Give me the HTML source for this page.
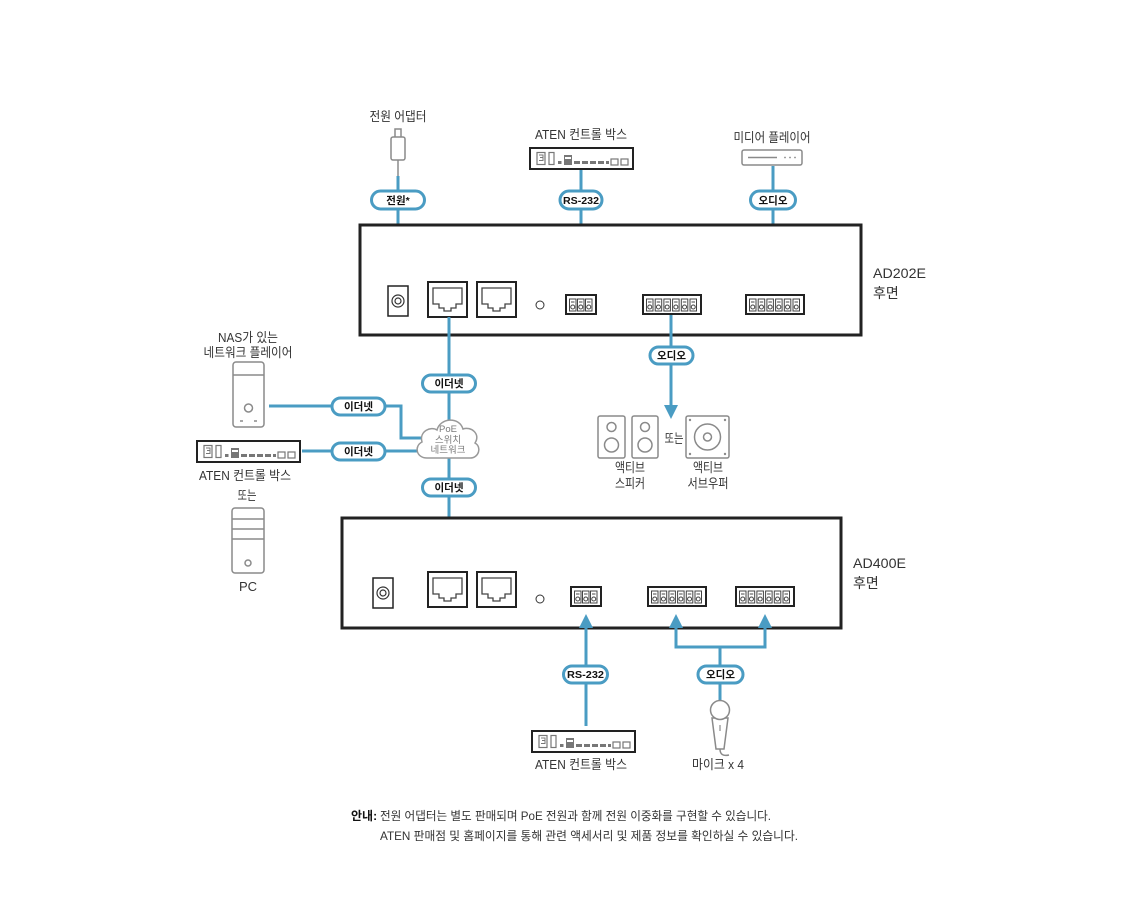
<!DOCTYPE html>
<html><head><meta charset="utf-8">
<style>
html,body{margin:0;padding:0;background:#fff;}
svg{display:block;}
text{font-family:"Liberation Sans","Noto Sans CJK KR",sans-serif;}
.lb{font-size:13px;fill:#333;}
.pt{font-size:10.5px;font-weight:bold;fill:#111;}
.bl{stroke:#4a9cc3;stroke-width:3;fill:none;}
.pill{fill:#fff;stroke:#4a9cc3;stroke-width:3;}
.dev{fill:#fff;stroke:#8a8a8a;stroke-width:1.5;}
.box{fill:#fff;stroke:#222;stroke-width:3;}
.port{fill:#fff;stroke:#222;stroke-width:2;}
.in{fill:none;stroke:#444;stroke-width:1.3;}
.arr{fill:#4a9cc3;}
</style></head>
<body>
<svg width="1140" height="913" viewBox="0 0 1140 913" xmlns="http://www.w3.org/2000/svg">
<defs>
  <g id="cell">
    <rect x="0.5" y="0" width="6.5" height="12" fill="none" stroke="#444" stroke-width="1"/>
    <line x1="2" y1="3" x2="5.5" y2="3" stroke="#444" stroke-width="1"/>
    <circle cx="3.75" cy="8" r="2" fill="none" stroke="#444" stroke-width="1"/>
  </g>
  <g id="ctrl">
    <rect x="0" y="0" width="103" height="21" fill="#fff" stroke="#222" stroke-width="2"/>
    <rect x="7" y="4.5" width="8" height="12" fill="none" stroke="#777" stroke-width="1.2"/>
    <path d="M9,7 h4 v2.5 h-3 h3 v3 h-4" fill="none" stroke="#777" stroke-width="1"/>
    <rect x="19" y="4.5" width="5" height="12" fill="none" stroke="#777" stroke-width="1.2"/>
    <rect x="28" y="13" width="3.5" height="3" fill="#777"/>
    <rect x="34" y="7" width="8" height="10" fill="#777"/>
    <rect x="35" y="9" width="6" height="2" fill="#fff"/>
    <rect x="44" y="13" width="6" height="3" fill="#777"/>
    <rect x="52" y="13" width="6" height="3" fill="#777"/>
    <rect x="60" y="13" width="6" height="3" fill="#777"/>
    <rect x="68" y="13" width="6" height="3" fill="#777"/>
    <rect x="76" y="13" width="3" height="3" fill="#777"/>
    <rect x="81" y="11" width="7" height="6" fill="none" stroke="#777" stroke-width="1.2"/>
    <rect x="91" y="11" width="7" height="6" fill="none" stroke="#777" stroke-width="1.2"/>
  </g>
  <g id="rj">
    <rect x="0" y="0" width="39" height="35" class="port"/>
    <path d="M5,6 H34 V22 H28 V26 H23 V29 H16 V26 H11 V22 H5 Z" class="in"/>
  </g>
  <g id="jack">
    <rect x="0" y="0" width="20" height="30" fill="#fff" stroke="#222" stroke-width="1.5"/>
    <circle cx="10" cy="15" r="6" fill="none" stroke="#333" stroke-width="1.2"/>
    <circle cx="10" cy="15" r="3" fill="none" stroke="#333" stroke-width="1.2"/>
  </g>
  <g id="c3">
    <rect x="0" y="0" width="30" height="19" class="port"/>
    <use href="#cell" x="3" y="4"/><use href="#cell" x="11" y="4"/><use href="#cell" x="19" y="4"/>
  </g>
  <g id="c6">
    <rect x="0" y="0" width="58" height="19" class="port"/>
    <use href="#cell" x="3" y="4"/><use href="#cell" x="11.7" y="4"/><use href="#cell" x="20.4" y="4"/>
    <use href="#cell" x="29.1" y="4"/><use href="#cell" x="37.8" y="4"/><use href="#cell" x="46.5" y="4"/>
  </g>
</defs>

<!-- ===== Top devices ===== -->
<text class="lb" x="398" y="121" text-anchor="middle" textLength="57" lengthAdjust="spacingAndGlyphs">전원 어댑터</text>
<rect x="395" y="129" width="6" height="9" class="dev"/>
<rect x="391" y="137" width="14" height="23" rx="2" class="dev"/>
<line x1="398" y1="160" x2="398" y2="176" stroke="#8a8a8a" stroke-width="1.5"/>

<text class="lb" x="581" y="139" text-anchor="middle" textLength="92" lengthAdjust="spacingAndGlyphs">ATEN 컨트롤 박스</text>
<use href="#ctrl" x="530" y="148"/>

<text class="lb" x="772" y="142" text-anchor="middle" textLength="77" lengthAdjust="spacingAndGlyphs">미디어 플레이어</text>
<rect x="742" y="150" width="60" height="15" rx="2" class="dev"/>
<line x1="748" y1="157.5" x2="777" y2="157.5" stroke="#8a8a8a" stroke-width="1.5"/>
<circle cx="785" cy="157.5" r="0.9" fill="#8a8a8a"/><circle cx="790" cy="157.5" r="0.9" fill="#8a8a8a"/><circle cx="795" cy="157.5" r="0.9" fill="#8a8a8a"/>

<!-- top connectors -->
<line class="bl" x1="398" y1="176" x2="398" y2="286"/>
<line class="bl" x1="581" y1="170" x2="581" y2="278"/>
<polygon class="arr" points="574,277 588,277 581,291"/>
<line class="bl" x1="773" y1="166" x2="773" y2="278"/>
<polygon class="arr" points="766,277 780,277 773,291"/>

<rect class="pill" x="371.5" y="191" width="53" height="18" rx="9"/>
<text class="pt" x="398" y="204" text-anchor="middle">전원*</text>
<rect class="pill" x="560" y="191" width="42" height="18" rx="9"/>
<text class="pt" x="581" y="204" text-anchor="middle" textLength="36" lengthAdjust="spacingAndGlyphs">RS-232</text>
<rect class="pill" x="750.5" y="191" width="45" height="18" rx="9"/>
<text class="pt" x="773" y="204" text-anchor="middle">오디오</text>

<!-- ===== AD202E ===== -->
<rect class="box" x="360" y="225" width="501" height="110"/>
<text x="873" y="278" font-size="14" fill="#333" textLength="53" lengthAdjust="spacingAndGlyphs">AD202E</text>
<text x="873" y="298" font-size="14" fill="#333">후면</text>
<use href="#jack" x="388" y="286"/>
<use href="#rj" x="428" y="282"/>
<use href="#rj" x="477" y="282"/>
<circle cx="540" cy="305" r="4" fill="none" stroke="#333" stroke-width="1"/>
<use href="#c3" x="566" y="295"/>
<use href="#c6" x="643" y="295"/>
<use href="#c6" x="746" y="295"/>

<!-- audio out to speakers -->
<line class="bl" x1="671" y1="315" x2="671" y2="407"/>
<polygon class="arr" points="664,405 678,405 671,419"/>
<rect class="pill" x="650" y="347" width="43" height="17" rx="8.5"/>
<text class="pt" x="671.5" y="359" text-anchor="middle">오디오</text>

<!-- speakers -->
<rect x="598" y="416" width="27" height="42" rx="2" class="dev"/>
<circle cx="611.5" cy="427" r="4.5" class="dev"/><circle cx="611.5" cy="445" r="7" class="dev"/>
<rect x="632" y="416" width="26" height="42" rx="2" class="dev"/>
<circle cx="645" cy="427" r="4.5" class="dev"/><circle cx="645" cy="445" r="7" class="dev"/>
<text class="lb" x="674" y="443" text-anchor="middle" textLength="19" lengthAdjust="spacingAndGlyphs">또는</text>
<rect x="686" y="416" width="43" height="42" rx="2" class="dev"/>
<circle cx="707.5" cy="437" r="13" class="dev"/>
<circle cx="707.5" cy="437" r="4" class="dev"/>
<circle cx="690" cy="420" r="1.2" fill="#8a8a8a"/><circle cx="725" cy="420" r="1.2" fill="#8a8a8a"/>
<circle cx="690" cy="454" r="1.2" fill="#8a8a8a"/><circle cx="725" cy="454" r="1.2" fill="#8a8a8a"/>
<text class="lb" x="630" y="472" text-anchor="middle" textLength="30" lengthAdjust="spacingAndGlyphs">액티브</text>
<text class="lb" x="630" y="488" text-anchor="middle" textLength="30" lengthAdjust="spacingAndGlyphs">스피커</text>
<text class="lb" x="708" y="472" text-anchor="middle" textLength="30" lengthAdjust="spacingAndGlyphs">액티브</text>
<text class="lb" x="708" y="488" text-anchor="middle" textLength="41" lengthAdjust="spacingAndGlyphs">서브우퍼</text>

<!-- ===== Ethernet / network ===== -->
<line class="bl" x1="449" y1="317" x2="449" y2="572"/>
<polyline class="bl" points="269,406 401,406 401,438 422,438"/>
<line class="bl" x1="302" y1="451" x2="424" y2="451"/>

<path d="M427,458 C416,458 414,446 422,442 C419,431 431,426 437,430 C440,418 459,416 463,429 C471,426 481,434 475,443 C482,447 479,458 470,458 Z" fill="#fff" stroke="#999" stroke-width="1.5"/>
<text x="448" y="432" font-size="9.5" fill="#7a7a7a" text-anchor="middle">PoE</text>
<text x="448" y="443" font-size="9.5" fill="#7a7a7a" text-anchor="middle">스위치</text>
<text x="448" y="453" font-size="9.5" fill="#7a7a7a" text-anchor="middle">네트워크</text>

<rect class="pill" x="422.5" y="375" width="53" height="17" rx="8.5"/>
<text class="pt" x="449" y="387" text-anchor="middle">이더넷</text>
<rect class="pill" x="422.5" y="479" width="53" height="17" rx="8.5"/>
<text class="pt" x="449" y="491" text-anchor="middle">이더넷</text>
<rect class="pill" x="332" y="398" width="53" height="17" rx="8.5"/>
<text class="pt" x="358.5" y="410" text-anchor="middle">이더넷</text>
<rect class="pill" x="332" y="443" width="53" height="17" rx="8.5"/>
<text class="pt" x="358.5" y="455" text-anchor="middle">이더넷</text>

<!-- left devices -->
<text class="lb" x="248" y="342" text-anchor="middle" textLength="60" lengthAdjust="spacingAndGlyphs">NAS가 있는</text>
<text class="lb" x="248" y="357" text-anchor="middle" textLength="89" lengthAdjust="spacingAndGlyphs">네트워크 플레이어</text>
<rect x="233" y="362" width="31" height="65" rx="3" class="dev"/>
<line x1="233" y1="375" x2="264" y2="375" stroke="#8a8a8a" stroke-width="1.5"/>
<circle cx="248.5" cy="408" r="4" class="dev"/>
<line x1="240" y1="421" x2="243" y2="421" stroke="#8a8a8a" stroke-width="1.5"/>
<line x1="254" y1="421" x2="257" y2="421" stroke="#8a8a8a" stroke-width="1.5"/>

<use href="#ctrl" x="197" y="441"/>
<text class="lb" x="245" y="480" text-anchor="middle" textLength="92" lengthAdjust="spacingAndGlyphs">ATEN 컨트롤 박스</text>
<text class="lb" x="247" y="500" text-anchor="middle" textLength="19" lengthAdjust="spacingAndGlyphs">또는</text>
<rect x="232" y="508" width="32" height="65" rx="3" class="dev"/>
<line x1="232" y1="519" x2="264" y2="519" stroke="#8a8a8a" stroke-width="1.5"/>
<line x1="232" y1="529" x2="264" y2="529" stroke="#8a8a8a" stroke-width="1.5"/>
<line x1="232" y1="539" x2="264" y2="539" stroke="#8a8a8a" stroke-width="1.5"/>
<circle cx="248" cy="563" r="3" class="dev"/>
<text class="lb" x="248" y="591" text-anchor="middle">PC</text>

<!-- ===== AD400E ===== -->
<rect class="box" x="342" y="518" width="499" height="110"/>
<text x="853" y="568" font-size="14" fill="#333" textLength="53" lengthAdjust="spacingAndGlyphs">AD400E</text>
<text x="853" y="588" font-size="14" fill="#333">후면</text>
<use href="#jack" x="373" y="578"/>
<use href="#rj" x="428" y="572"/>
<use href="#rj" x="477" y="572"/>
<circle cx="540" cy="599" r="4" fill="none" stroke="#333" stroke-width="1"/>
<use href="#c3" x="571" y="587"/>
<use href="#c6" x="648" y="587"/>
<use href="#c6" x="736" y="587"/>

<!-- bottom connectors -->
<line class="bl" x1="586" y1="726" x2="586" y2="626"/>
<polygon class="arr" points="579,628 593,628 586,614"/>
<polyline class="bl" points="676,626 676,647 765,647 765,626"/>
<polygon class="arr" points="669,628 683,628 676,614"/>
<polygon class="arr" points="758,628 772,628 765,614"/>
<line class="bl" x1="720" y1="647" x2="720" y2="702"/>

<rect class="pill" x="563.5" y="666" width="44" height="17" rx="8.5"/>
<text class="pt" x="585.5" y="678" text-anchor="middle" textLength="37" lengthAdjust="spacingAndGlyphs">RS-232</text>
<rect class="pill" x="698" y="666" width="45" height="17" rx="8.5"/>
<text class="pt" x="720.5" y="678" text-anchor="middle">오디오</text>

<!-- bottom control box -->
<use href="#ctrl" x="532" y="731"/>
<text class="lb" x="581" y="769" text-anchor="middle" textLength="92" lengthAdjust="spacingAndGlyphs">ATEN 컨트롤 박스</text>

<!-- microphone -->
<path d="M712,718 L716,749 H724 L728,718 Z" class="dev"/>
<line x1="720" y1="725" x2="720" y2="731" stroke="#8a8a8a" stroke-width="1.2"/>
<circle cx="720" cy="710" r="9.5" class="dev"/>
<path d="M720,749 Q720,757 729,755" fill="none" stroke="#8a8a8a" stroke-width="1.5"/>
<text class="lb" x="718" y="769" text-anchor="middle" textLength="52" lengthAdjust="spacingAndGlyphs">마이크 x 4</text>

<!-- note -->
<text x="351" y="820" font-size="12" fill="#111" font-weight="bold">안내:</text>
<text x="380" y="820" font-size="12" fill="#333" textLength="391" lengthAdjust="spacingAndGlyphs">전원 어댑터는 별도 판매되며 PoE 전원과 함께 전원 이중화를 구현할 수 있습니다.</text>
<text x="380" y="840" font-size="12" fill="#333" textLength="418" lengthAdjust="spacingAndGlyphs">ATEN 판매점 및 홈페이지를 통해 관련 액세서리 및 제품 정보를 확인하실 수 있습니다.</text>
</svg>
</body></html>
